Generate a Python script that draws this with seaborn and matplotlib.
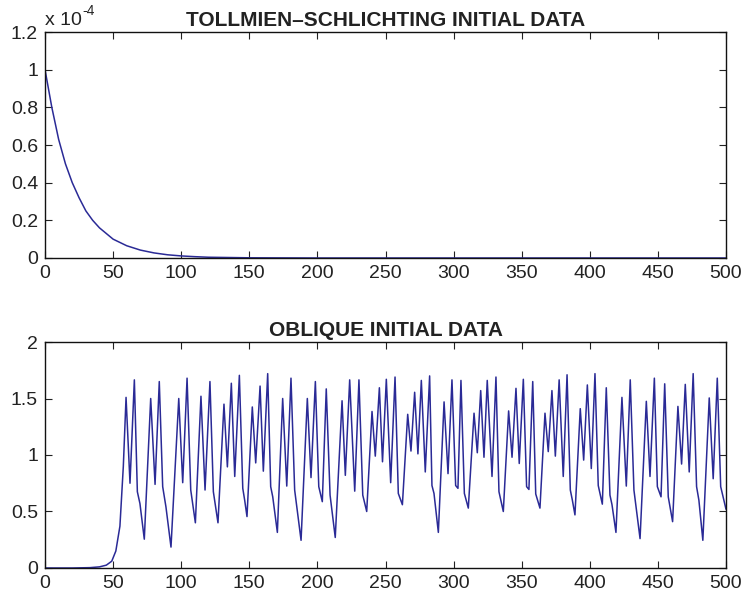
import numpy as np
import seaborn as sns
import matplotlib.pyplot as plt

# top panel: Tollmien-Schlichting initial data (values in units of 1e-4)
ts_x = [0, 5, 10, 15, 20, 25, 30, 35, 40, 50, 60, 70, 80, 90, 100, 110, 120, 130, 150, 200, 300, 400, 500]
ts_y = [1.0, 0.80, 0.63, 0.50, 0.40, 0.32, 0.25, 0.20, 0.16, 0.10, 0.065, 0.042, 0.027, 0.017,
        0.011, 0.007, 0.004, 0.003, 0.001, 0.0, 0.0, 0.0, 0.0]

# bottom panel: oblique initial data (peaks / troughs)
obl_x = [0, 20, 33, 40, 45, 49, 52, 55, 57.5, 59.5, 62.4, 65.6, 67.8, 69.7, 72.9, 77.6, 80.8, 83.9,
         86.4, 88.8, 92.5, 98.2, 101.1, 104.3, 107.0, 110.4, 114.5, 117.5, 121.1, 123.6, 127.0,
         131.4, 133.9, 136.8, 139.3, 142.7, 145.2, 146.6, 148.3, 152.2, 154.7, 157.9, 160.3, 163.5,
         165.7, 167.2, 170.6, 174.5, 177.5, 180.6, 183.3, 188.0, 192.6, 195.3, 198.5, 201.0, 203.6,
         206.5, 209.3, 213.1, 218.1, 220.5, 223.7, 227.4, 230.5, 233.3, 236.2, 240.1, 242.5, 245.5,
         247.8, 250.6, 253.8, 257.0, 259.4, 262.4, 266.3, 268.7, 271.4, 273.8, 276.3, 279.2, 282.4,
         284.1, 285.6, 288.8, 293.0, 295.9, 298.8, 301.5, 303.2, 305.4, 307.9, 310.8, 315.0, 317.4,
         319.9, 322.3, 324.7, 328.2, 331.1, 333.3, 336.5, 340.4, 342.9, 345.8, 348.2, 351.2, 353.6,
         355.3, 358.1, 360.3, 363.4, 367.1, 369.5, 372.2, 374.7, 377.5, 380.5, 383.3, 385.7, 387.2,
         389.1, 393.0, 395.5, 398.2, 401.1, 403.8, 406.2, 409.2, 412.1, 414.8, 416.3, 419.2, 423.6,
         426.8, 429.7, 432.4, 436.9, 441.5, 444.2, 447.4, 449.6, 452.3, 455.0, 457.6, 460.8, 464.7,
         467.4, 470.1, 473.0, 475.9, 478.4, 480.1, 483.0, 487.7, 490.6, 493.6, 496.1, 500]
obl_y = [0, 0, 0.003, 0.01, 0.025, 0.06, 0.15, 0.37, 0.9, 1.51, 0.75, 1.665, 0.675, 0.57, 0.255, 1.50,
         0.74, 1.65, 0.72, 0.54, 0.185, 1.50, 0.755, 1.68, 0.69, 0.40, 1.52, 0.69, 1.65, 0.675, 0.40,
         1.45, 0.895, 1.635, 0.81, 1.705, 0.705, 0.60, 0.455, 1.425, 0.93, 1.61, 0.857, 1.72,
         0.72, 0.63, 0.315, 1.50, 0.725, 1.68, 0.69, 0.245, 1.50, 0.80, 1.65, 0.72, 0.587,
         1.585, 0.645, 0.27, 1.48, 0.82, 1.665, 0.68, 1.665, 0.645, 0.50, 1.385, 0.99, 1.595,
         0.94, 1.67, 0.755, 1.69, 0.66, 0.56, 1.36, 1.035, 1.555, 1.01, 1.66, 0.85, 1.70,
         0.73, 0.66, 0.315, 1.47, 0.835, 1.665, 0.73, 0.705, 1.66, 0.66, 0.53, 1.37, 1.02,
         1.57, 0.98, 1.66, 0.81, 1.69, 0.675, 0.50, 1.39, 0.98, 1.59, 0.925, 1.67, 0.72,
         0.695, 1.65, 0.655, 0.53, 1.37, 1.03, 1.57, 0.99, 1.665, 0.81, 1.71, 0.69, 0.60,
         0.47, 1.41, 0.955, 1.62, 0.88, 1.72, 0.73, 0.565, 1.595, 0.645, 0.56, 0.315, 1.51,
         0.725, 1.665, 0.69, 0.26, 1.475, 0.81, 1.68, 0.72, 0.63, 1.63, 0.63, 0.41, 1.43,
         0.92, 1.625, 0.85, 1.72, 0.72, 0.60, 0.245, 1.505, 0.79, 1.68, 0.72, 0.52]

x_ticks = list(range(0, 501, 50))
ts_yticks = [0, 0.2, 0.4, 0.6, 0.8, 1.0, 1.2]
ts_ylabels = ['0', '0.2', '0.4', '0.6', '0.8', '1', '1.2']
obl_yticks = [0, 0.5, 1.0, 1.5, 2.0]
obl_ylabels = ['0', '0.5', '1', '1.5', '2']

sns.set_style('ticks')
plt.rcParams['font.family'] = ['Liberation Sans', 'DejaVu Sans']

line_color = '#2a2a96'

fig = plt.figure(figsize=(7.44, 5.95), dpi=100)
ax1 = fig.add_axes([0.0605, 0.5664, 0.9153, 0.3798])
ax2 = fig.add_axes([0.0605, 0.0454, 0.9153, 0.3798])

sns.lineplot(x=ts_x, y=ts_y, ax=ax1, color=line_color, linewidth=1.1)
sns.lineplot(x=obl_x, y=obl_y, ax=ax2, color=line_color, linewidth=1.1)

def style_axis(ax, yticks, ylabels, ylim, title):
    ax.set_xlim(0, 500)
    ax.set_ylim(*ylim)
    ax.set_xticks(x_ticks)
    ax.set_xticklabels([str(t) for t in x_ticks])
    ax.set_yticks(yticks)
    ax.set_yticklabels(ylabels)
    ax.set_xlabel('')
    ax.set_ylabel('')
    ax.tick_params(direction='in', top=True, right=True, length=5, width=0.8,
                   labelsize=14, labelcolor='#222222', color='#222222')
    ax.tick_params(axis='x', pad=5)
    ax.tick_params(axis='y', pad=5)
    for sp in ax.spines.values():
        sp.set_visible(True)
        sp.set_color('#111111')
        sp.set_linewidth(1.0)
    ax.set_title(title, fontsize=15, fontweight='bold', color='#222222', pad=4)

style_axis(ax1, ts_yticks, ts_ylabels, (0, 1.2), 'TOLLMIEN\u2013SCHLICHTING INITIAL DATA')
style_axis(ax2, obl_yticks, obl_ylabels, (0, 2), 'OBLIQUE INITIAL DATA')

# MATLAB-style exponent label
ax1.annotate('x 10', xy=(0, 1.031), xycoords='axes fraction',
             fontsize=14, color='#222222', ha='left', va='baseline')
ax1.annotate('-4', xy=(0, 1.031), xycoords='axes fraction', xytext=(27, 7),
             textcoords='offset points', fontsize=10, color='#222222',
             ha='left', va='baseline')

fig.savefig('out.png', dpi=100)
